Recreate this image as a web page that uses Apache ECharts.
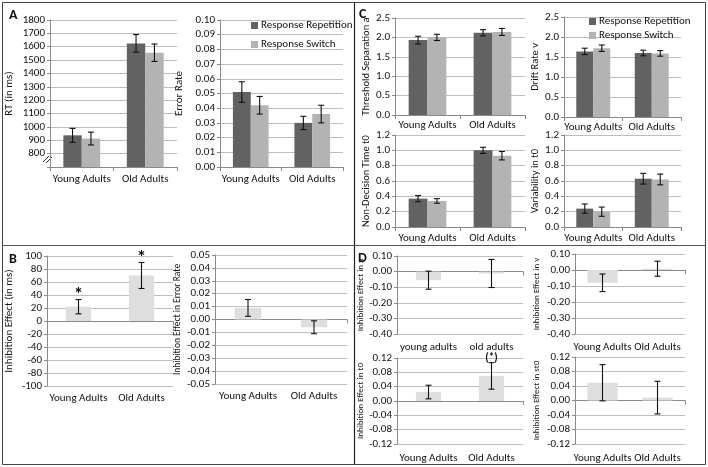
<!DOCTYPE html>
<html><head><meta charset="utf-8">
<script src="https://cdn.jsdelivr.net/npm/echarts@6/dist/echarts.min.js"></script>
<style>html,body{margin:0;padding:0;background:#fff}#c{width:708px;height:467px}</style>
</head><body><div id="c"></div>
<script>
// ---------- DATA ----------
const categories = ['Young Adults', 'Old Adults'];
const categoriesLower = ['young adults', 'old adults'];
const seriesNames = ['Response Repetition', 'Response Switch'];

// Panel A
const rtRep = [937, 1625], rtRepErr = [52, 66];
const rtSw = [913, 1555], rtSwErr = [48, 65];
const erRep = [0.051, 0.030], erRepErr = [0.007, 0.0045];
const erSw = [0.042, 0.036], erSwErr = [0.006, 0.006];
// Panel B
const inhRt = [22, 70], inhRtErr = [11, 20], inhRtSig = ['*', '*'];
const inhEr = [0.009, -0.006], inhErErr = [0.0065, 0.005];
// Panel C
const aRep = [1.93, 2.12], aRepErr = [0.10, 0.08];
const aSw = [2.00, 2.14], aSwErr = [0.08, 0.09];
const vRep = [1.64, 1.60], vRepErr = [0.08, 0.07];
const vSw = [1.72, 1.59], vSwErr = [0.08, 0.07];
const t0Rep = [0.37, 1.00], t0RepErr = [0.04, 0.04];
const t0Sw = [0.34, 0.93], t0SwErr = [0.03, 0.055];
const st0Rep = [0.24, 0.63], st0RepErr = [0.06, 0.07];
const st0Sw = [0.20, 0.62], st0SwErr = [0.06, 0.07];
// Panel D
const inhA = [-0.055, -0.012], inhAErr = [0.058, 0.09];
const inhV = [-0.08, 0.008], inhVErr = [0.055, 0.047];
const inhT0 = [0.025, 0.07], inhT0Err = [0.019, 0.037], inhT0Sig = ['', '(*)'];
const inhSt0 = [0.049, 0.008], inhSt0Err = [0.05, 0.045];

// ---------- STYLE ----------
const FONT = "Carlito, 'Liberation Sans Narrow', Lato, sans-serif";
const DARK = '#626262', LIGHT = '#b3b3b3', EFFECT = '#dedede';
const GRIDC = '#bdbdbd', AXISC = '#8a8a8a', TXT = '#111';

const option = {
  animation: false,
  backgroundColor: '#fff',
  textStyle: { fontFamily: FONT },
  grid: [], xAxis: [], yAxis: [], series: [], legend: [], graphic: []
};

function errSeries(xi, yi, values, errs, offFrac, sig) {
  return {
    type: 'custom', xAxisIndex: xi, yAxisIndex: yi, silent: true, z: 10,
    data: values.map((v, i) => [i, v - errs[i], v + errs[i]]),
    renderItem: function (params, api) {
      const i = api.value(0);
      const lo = api.coord([i, api.value(1)]);
      const hi = api.coord([i, api.value(2)]);
      const band = api.size([1, 0])[0];
      const cx = lo[0] + offFrac * band;
      const cap = 3;
      const st = { stroke: '#111', lineWidth: 1.1 };
      const ch = [
        { type: 'line', shape: { x1: cx, y1: lo[1], x2: cx, y2: hi[1] }, style: st },
        { type: 'line', shape: { x1: cx - cap, y1: lo[1], x2: cx + cap, y2: lo[1] }, style: st },
        { type: 'line', shape: { x1: cx - cap, y1: hi[1], x2: cx + cap, y2: hi[1] }, style: st }
      ];
      if (sig && sig[params.dataIndex]) {
        const s = sig[params.dataIndex];
        if (s === '*') {
          ch.push({ type: 'text', style: { text: s, x: cx, y: hi[1] + 5, align: 'center', verticalAlign: 'bottom',
            font: 'bold 19px ' + FONT, fill: '#111' } });
        } else {
          ch.push({ type: 'text', style: { text: s, x: cx, y: hi[1] + 1, align: 'center', verticalAlign: 'bottom',
            font: 'bold 11px ' + FONT, fill: '#111' } });
        }
      }
      return { type: 'group', children: ch };
    }
  };
}

function addChart(cfg) {
  const gi = option.grid.length;
  option.grid.push({ left: cfg.g[0], top: cfg.g[1], width: cfg.g[2], height: cfg.g[3], containLabel: false });
  const xi = option.xAxis.length;
  const zeroCross = cfg.min < 0;
  option.xAxis.push({
    type: 'category', gridIndex: gi, data: cfg.cats, position: 'bottom',
    axisLine: { show: !zeroCross, onZero: false, lineStyle: { color: AXISC } },
    axisTick: { show: !zeroCross, length: 4, lineStyle: { color: AXISC } },
    axisLabel: { color: TXT, fontSize: cfg.xfs || 11, margin: cfg.xm || 7, fontFamily: FONT, interval: 0 },
    splitLine: { show: false }
  });
  if (zeroCross) {
    option.xAxis.push({
      type: 'category', gridIndex: gi, data: cfg.cats, position: 'top',
      axisLine: { show: true, onZero: true, lineStyle: { color: AXISC } },
      axisTick: { show: true, inside: true, length: 4, lineStyle: { color: AXISC } },
      axisLabel: { show: false }, splitLine: { show: false }
    });
  }
  const yi = option.yAxis.length;
  option.yAxis.push({
    type: 'value', gridIndex: gi, min: cfg.min, max: cfg.max, interval: cfg.step,
    name: cfg.yName, nameLocation: 'middle', nameGap: cfg.nameGap,
    nameTextStyle: { color: TXT, fontSize: cfg.nfs || 11, fontFamily: FONT },
    axisLine: { show: true, lineStyle: { color: AXISC } },
    axisTick: { show: true, length: 3, lineStyle: { color: AXISC } },
    axisLabel: { color: TXT, fontSize: cfg.yfs || 11, margin: 5, fontFamily: FONT,
      formatter: v => (cfg.hide !== undefined && Math.abs(v - cfg.hide) < 1e-9) ? '' : v.toFixed(cfg.dec) },
    splitLine: { show: true, lineStyle: { color: GRIDC, width: 1 } }
  });
  const n = cfg.series.length;
  cfg.series.forEach((s, k) => {
    option.series.push({
      type: 'bar', name: s.name, xAxisIndex: xi, yAxisIndex: yi, data: s.values,
      itemStyle: { color: s.color }, barGap: '0%', barCategoryGap: cfg.gap, silent: true
    });
  });
  const gapFrac = parseFloat(cfg.gap) / 100;
  const bw = (1 - gapFrac) / n;
  cfg.series.forEach((s, k) => {
    const off = (k - (n - 1) / 2) * bw;
    option.series.push(errSeries(xi, yi, s.values, s.errs, off, s.sig));
  });
}

// Panel A
addChart({ g: [50, 20, 127, 147], min: 700, max: 1800, step: 100, dec: 0, hide: 700,
  yName: 'RT (in ms)', nameGap: 35, cats: categories, gap: '42%',
  series: [{ name: seriesNames[0], values: rtRep, errs: rtRepErr, color: DARK },
           { name: seriesNames[1], values: rtSw, errs: rtSwErr, color: LIGHT }] });
addChart({ g: [220, 20, 123, 147], min: 0, max: 0.10, step: 0.01, dec: 2,
  yName: 'Error Rate', nameGap: 35, cats: categories, gap: '42%',
  series: [{ name: seriesNames[0], values: erRep, errs: erRepErr, color: DARK },
           { name: seriesNames[1], values: erSw, errs: erSwErr, color: LIGHT }] });
// Panel B
addChart({ g: [47, 256, 126, 130], min: -100, max: 100, step: 20, dec: 0,
  yName: 'Inhibition Effect (in ms)', nameGap: 32, cats: categories, gap: '60%',
  series: [{ name: 'Inhibition', values: inhRt, errs: inhRtErr, color: EFFECT, sig: inhRtSig }] });
addChart({ g: [215, 255, 132, 129], min: -0.05, max: 0.05, step: 0.01, dec: 2, nfs: 9.5,
  yName: 'Inhibition Effect in Error Rate', nameGap: 32, cats: categories, gap: '60%',
  series: [{ name: 'Inhibition', values: inhEr, errs: inhErErr, color: EFFECT }] });
// Panel C
addChart({ g: [395, 18, 130, 97], min: 0, max: 2.5, step: 0.5, dec: 1, xm: 5, nfs: 10.5,
  yName: 'Threshold Separation a', nameGap: 23, cats: categories, gap: '42%',
  series: [{ name: seriesNames[0], values: aRep, errs: aRepErr, color: DARK },
           { name: seriesNames[1], values: aSw, errs: aSwErr, color: LIGHT }] });
addChart({ g: [564, 17, 117, 100], min: 0, max: 2.5, step: 0.5, dec: 1, xm: 5, nfs: 10.5,
  yName: 'Drift Rate v', nameGap: 21, cats: categories, gap: '42%',
  series: [{ name: seriesNames[0], values: vRep, errs: vRepErr, color: DARK },
           { name: seriesNames[1], values: vSw, errs: vSwErr, color: LIGHT }] });
addChart({ g: [395, 135, 130, 92], min: 0, max: 1.2, step: 0.2, dec: 1, xm: 6, nfs: 10.5,
  yName: 'Non-Decision Time t0', nameGap: 23, cats: categories, gap: '42%',
  series: [{ name: seriesNames[0], values: t0Rep, errs: t0RepErr, color: DARK },
           { name: seriesNames[1], values: t0Sw, errs: t0SwErr, color: LIGHT }] });
addChart({ g: [564, 135, 117, 92], min: 0, max: 1.2, step: 0.2, dec: 1, xm: 6, nfs: 10.5,
  yName: 'Variability in t0', nameGap: 22, cats: categories, gap: '42%',
  series: [{ name: seriesNames[0], values: st0Rep, errs: st0RepErr, color: DARK },
           { name: seriesNames[1], values: st0Sw, errs: st0SwErr, color: LIGHT }] });
// Panel D
addChart({ g: [397, 256, 126, 78], min: -0.4, max: 0.1, step: 0.1, dec: 2, xm: 8, nfs: 9,
  yName: 'Inhibition Effect in a', nameGap: 32, cats: categoriesLower, gap: '60%',
  series: [{ name: 'Inhibition', values: inhA, errs: inhAErr, color: EFFECT }] });
addChart({ g: [575, 254, 110, 80], min: -0.4, max: 0.1, step: 0.1, dec: 2, xm: 8, nfs: 9,
  yName: 'Inhibition Effect in v', nameGap: 34, cats: categories, gap: '45%',
  series: [{ name: 'Inhibition', values: inhV, errs: inhVErr, color: EFFECT }] });
addChart({ g: [397, 358, 126, 86], min: -0.12, max: 0.12, step: 0.04, dec: 2, xm: 9, nfs: 9,
  yName: 'Inhibition Effect in t0', nameGap: 32, cats: categories, gap: '60%',
  series: [{ name: 'Inhibition', values: inhT0, errs: inhT0Err, color: EFFECT, sig: inhT0Sig }] });
addChart({ g: [575, 357, 110, 87], min: -0.12, max: 0.12, step: 0.04, dec: 2, xm: 9, nfs: 9,
  yName: 'Inhibition Effect in st0', nameGap: 34, cats: categories, gap: '45%',
  series: [{ name: 'Inhibition', values: inhSt0, errs: inhSt0Err, color: EFFECT }] });

// Legends
const legendBase = {
  data: seriesNames, orient: 'vertical', icon: 'rect', itemWidth: 7, itemHeight: 7,
  selectedMode: false, textStyle: { color: TXT, fontSize: 11, fontFamily: FONT, padding: [0, 0, 0, -2] }, padding: 0
};
option.legend.push(Object.assign({}, legendBase, { left: 251, top: 20, itemGap: 8 }));
option.legend.push(Object.assign({}, legendBase, { left: 589, top: 16, itemGap: 3 }));

// Frame, dividers, panel letters, axis break
const frame = { stroke: '#444', lineWidth: 1, fill: null };
option.graphic = [
  { type: 'rect', shape: { x: 2.5, y: 2.5, width: 703, height: 462 }, style: frame, silent: true },
  { type: 'line', shape: { x1: 354.5, y1: 2.5, x2: 354.5, y2: 464.5 }, style: { stroke: '#222', lineWidth: 1.2 }, silent: true },
  { type: 'line', shape: { x1: 2.5, y1: 245.5, x2: 705.5, y2: 245.5 }, style: { stroke: '#555', lineWidth: 1 }, silent: true },
  { type: 'text', left: 9, top: 8, style: { text: 'A', font: 'bold 14px ' + FONT, fill: '#111' } },
  { type: 'text', left: 9, top: 252, style: { text: 'B', font: 'bold 14px ' + FONT, fill: '#111' } },
  { type: 'text', left: 359, top: 7, style: { text: 'C', font: 'bold 14px ' + FONT, fill: '#111' } },
  { type: 'text', left: 358, top: 251, style: { text: 'D', font: 'bold 14px ' + FONT, fill: '#111' } },
  { type: 'line', shape: { x1: 43, y1: 162, x2: 49, y2: 156 }, style: { stroke: '#333', lineWidth: 1 }, silent: true },
  { type: 'line', shape: { x1: 46, y1: 163, x2: 52, y2: 157 }, style: { stroke: '#333', lineWidth: 1 }, silent: true }
];

const chart = echarts.init(document.getElementById('c'), null, { renderer: 'canvas' });
chart.setOption(option);
</script>
</body></html>
